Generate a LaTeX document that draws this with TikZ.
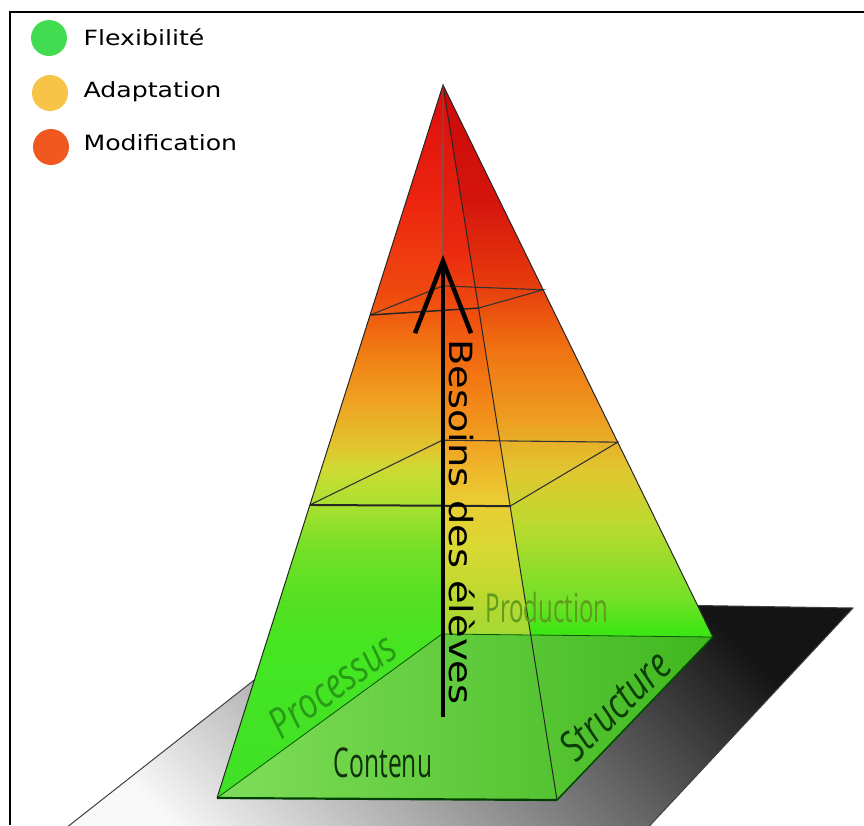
\documentclass[tikz,border=0pt]{standalone}
\usepackage{fontspec}
\usetikzlibrary{calc,arrows.meta}
\setmainfont{DejaVu Sans}
\newfontfamily\legendfont[FakeStretch=1.2]{DejaVu Sans}
\newfontfamily\facefont[FakeStretch=0.6]{Open Sans}
\newfontfamily\sidefont[FakeStretch=0.8]{Open Sans}

\definecolor{flexgreen}{RGB}{66,220,80}
\definecolor{adaptorange}{RGB}{248,196,72}
\definecolor{modifred}{RGB}{240,88,32}

% colour of the faces, from the base (25bp) up to the apex (75bp)
\pgfdeclareverticalshading{faceL}{100bp}{rgb(0bp)=(0.25,0.88,0.15); rgb(25bp)=(0.25,0.88,0.15);
  rgb(35.5bp)=(0.27,0.9,0.13); rgb(39bp)=(0.33,0.88,0.13); rgb(42.5bp)=(0.45,0.88,0.15);
  rgb(45.6bp)=(0.66,0.88,0.19); rgb(48.1bp)=(0.80,0.86,0.2); rgb(49.5bp)=(0.88,0.78,0.19);
  rgb(53bp)=(0.94,0.63,0.13); rgb(56.5bp)=(0.94,0.48,0.07); rgb(60bp)=(0.94,0.3,0.06);
  rgb(67bp)=(0.93,0.14,0.06); rgb(75bp)=(0.85,0.05,0.05); rgb(100bp)=(0.85,0.05,0.05)}
\pgfdeclareverticalshading{faceM}{100bp}{rgb(0bp)=(0.45,0.85,0.2); rgb(25bp)=(0.45,0.85,0.2);
  rgb(36.9bp)=(0.65,0.85,0.2); rgb(39bp)=(0.72,0.85,0.19); rgb(42.5bp)=(0.85,0.85,0.2);
  rgb(46bp)=(0.92,0.8,0.2); rgb(50.9bp)=(0.95,0.6,0.12); rgb(54.4bp)=(0.95,0.47,0.07);
  rgb(58.6bp)=(0.94,0.32,0.06); rgb(63.5bp)=(0.92,0.16,0.06); rgb(75bp)=(0.85,0.05,0.05);
  rgb(100bp)=(0.85,0.05,0.05)}
\pgfdeclareverticalshading{faceR}{100bp}{rgb(0bp)=(0.2,0.85,0.08); rgb(25bp)=(0.2,0.85,0.08);
  rgb(36.9bp)=(0.25,0.9,0.08); rgb(39bp)=(0.45,0.88,0.15); rgb(44.6bp)=(0.75,0.85,0.19);
  rgb(48.1bp)=(0.88,0.78,0.19); rgb(51.6bp)=(0.93,0.62,0.13); rgb(56.5bp)=(0.94,0.45,0.07);
  rgb(61.4bp)=(0.9,0.22,0.05); rgb(67bp)=(0.83,0.08,0.05); rgb(75bp)=(0.8,0.04,0.04);
  rgb(100bp)=(0.8,0.04,0.04)}

\begin{document}
\begin{tikzpicture}[x=1pt, y=-1pt,
    rim/.style={black!85, line width=1pt},
    cut/.style={black!80, line width=1.1pt},
    cutfront/.style={black!85, line width=2pt},
    dot/.style={circle, minimum size=36pt, inner sep=0pt},
    legend/.style={anchor=base west, font=\legendfont\fontsize{21}{25}\selectfont},
    facelabel/.style={font=\facefont\fontsize{41}{45}\selectfont},
    sidelabel/.style={font=\sidefont\itshape\fontsize{42}{46}\selectfont}]
  \useasboundingbox (0,0) rectangle (864,825);
  \clip (0,0) rectangle (864,825);

  % ground plane
  \coordinate (gTL) at (356,600);
  \coordinate (gTR) at (853,608);
  \coordinate (gBR) at (627,850);
  \coordinate (gBL) at (38,850);
  \shade[top color=gray!5, middle color=gray!45, bottom color=black!92, shading angle=135]
    (gTL) -- (gTR) -- (gBR) -- (gBL) -- cycle;
  \draw[black!75, line width=1pt] (gBL) -- (gTL) -- (gTR) -- (gBR);

  % pyramid
  \coordinate (A) at (443,85);
  \coordinate (FL) at (217,798);
  \coordinate (FR) at (557,800);
  \coordinate (BR) at (713,637);
  \coordinate (BL) at (442,634);
  \begin{scope}
    \clip (A) -- (FL) -- (BL) -- cycle;
    \shade[shading=faceL] (0,85) rectangle (864,800);
  \end{scope}
  \begin{scope}
    \clip (A) -- (BL) -- (FR) -- cycle;
    \shade[shading=faceM] (0,85) rectangle (864,800);
  \end{scope}
  \begin{scope}
    \clip (A) -- (FR) -- (BR) -- cycle;
    \shade[shading=faceR] (0,85) rectangle (864,800);
  \end{scope}
  \shade[left color={rgb,1:red,0.5;green,0.87;blue,0.35}, right color={rgb,1:red,0.25;green,0.72;blue,0.12}]
    (FL) -- (FR) -- (BR) -- (BL) -- cycle;

  % levels
  \coordinate (lowFL) at ($(A)!0.589!(FL)$);
  \coordinate (lowFR) at ($(A)!0.589!(FR)$);
  \coordinate (lowBR) at ($(A)!0.647!(BR)$);
  \coordinate (lowBL) at ($(A)!0.647!(BL)$);
  \coordinate (topFL) at ($(A)!0.3226!(FL)$);
  \coordinate (topFR) at ($(A)!0.312!(FR)$);
  \coordinate (topBR) at ($(A)!0.371!(BR)$);
  \coordinate (topBL) at ($(A)!0.366!(BL)$);
  \draw[cut] (lowFR) -- (lowBR) -- (lowBL) -- (lowFL);
  \draw[cutfront] (lowFL) -- (lowFR);
  \draw[cut] (topFR) -- (topBR) -- (topBL) -- (topFL);
  \draw[cutfront, line width=1.5pt] (topFL) -- (topFR);

  % edges
  \draw[rim] (FL) -- (A) -- (BR);
  \draw[rim] (A) -- (FR);
  \draw[black!60, line width=0.8pt] (A) -- (BL);
  \draw[green!35!black, line width=0.8pt] (BR) -- (BL) -- (FL);
  \draw[green!30!black, line width=1.6pt] (FR) -- (BR);
  \draw[green!25!black, line width=2.2pt] (FL) -- (FR);

  % faces
  \node[facelabel, text={rgb,255:red,15;green,48;blue,8}] (contenu) at (383,763) {Contenu};
  \node[facelabel, text={rgb,255:red,95;green,155;blue,30}, font=\facefont\fontsize{40}{44}\selectfont] (production) at (547,607) {Production};
  \node[sidelabel, text={rgb,255:red,40;green,155;blue,22}, rotate=36] (processus) at (332,686) {Processus};
  \node[sidelabel, text={rgb,255:red,12;green,62;blue,8}, rotate=44] (structure) at (615,705) {Structure};

  % needs arrow
  \coordinate (arrowFoot) at (443,717);
  \coordinate (arrowTip) at (443,255);
  \draw[line width=4.5pt, -{Straight Barb[length=72pt, width=56pt]}] (arrowFoot) -- (arrowTip);
  \node[rotate=-90, anchor=base, font=\legendfont\fontsize{32}{36}\selectfont] (besoins) at (449,522) {Besoins des élèves};

  % legend
  \node[dot, fill=flexgreen] (dotFlex) at (49,38) {};
  \node[dot, fill=adaptorange] (dotAdapt) at (50,93) {};
  \node[dot, fill=modifred] (dotModif) at (51,147) {};
  \node[legend] (txtFlex) at (80,45) {Flexibilité};
  \node[legend] (txtAdapt) at (80,97) {Adaptation};
  \node[legend] (txtModif) at (80,150) {Modification};

  % frame
  \draw[line width=2pt] (10,825) -- (10,12) -- (864,12);
\end{tikzpicture}
\end{document}
